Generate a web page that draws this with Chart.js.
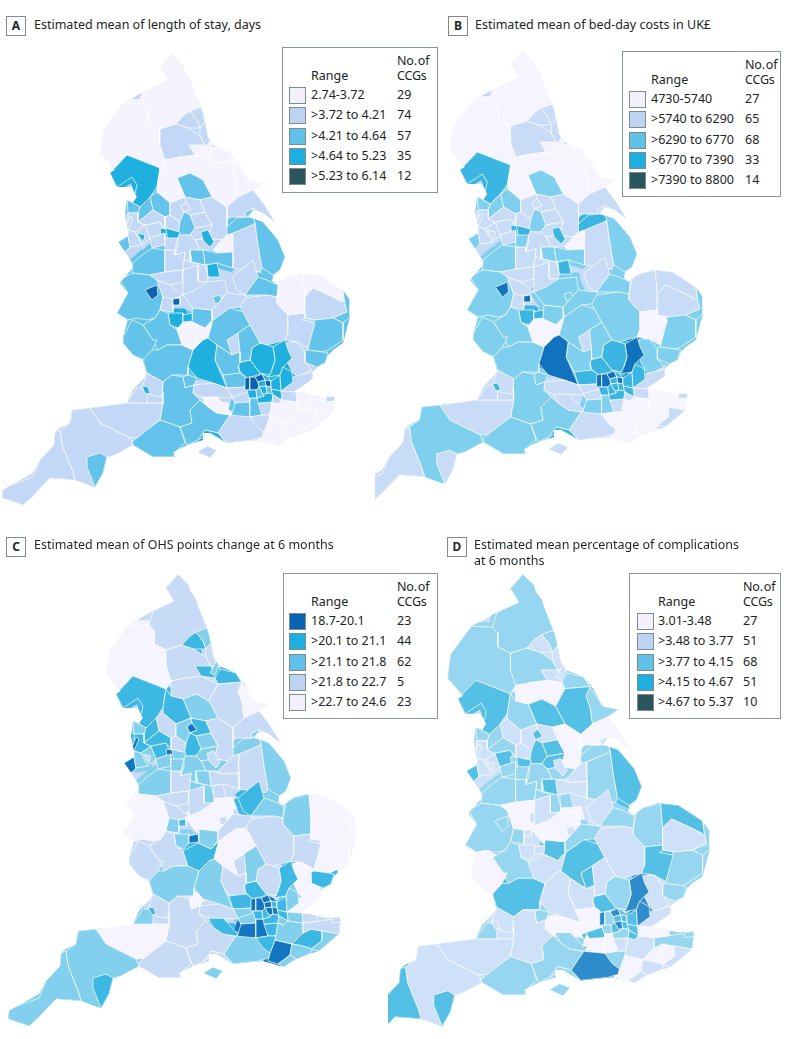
<!DOCTYPE html>
<html>
<head>
<meta charset="utf-8">
<title>Estimated means by CCG</title>
<script src="https://cdn.jsdelivr.net/npm/chart.js@4"></script>
<style>
html, body { margin: 0; padding: 0; background: #fff; }
body { position: relative; width: 787px; height: 1039px; overflow: hidden; font-family: "Noto Sans", sans-serif; color: #1c2526; font-size: 12.5px; }
canvas { position: absolute; }
.tag { position: absolute; width: 18px; height: 18px; border: 1px solid #7f8c8d; text-align: center; line-height: 18px; font-weight: 700; font-size: 12px; box-sizing: content-box; }
.title { position: absolute; line-height: 15.5px; white-space: nowrap; }
.box { position: absolute; border: 1.5px solid #8a9697; background: #fff; height: 144px; box-sizing: content-box; }
.box div { position: absolute; white-space: nowrap; line-height: 15px; }
.box .sw { width: 15px; height: 15px; border: 1px solid #7f8c8d; }
.box .head { word-spacing: -2px; letter-spacing: -0.2px; }
</style>
</head>
<body>
<script>
const regionNames = [
  'northumberland', 'northCumbria', 'morecambeBay', 'durham', 'newcastle', 'northTyneside', 'sunderland', 'hartlepool', 'southTees', 'stockton',
  'hambleton', 'scarborough', 'valeOfYork', 'harrogate', 'eastRiding', 'hull', 'airedale', 'eastLancs', 'fylde', 'preston',
  'westLancs', 'southport', 'bradfordDistricts', 'bradfordCity', 'leeds', 'wakefield', 'calderdale', 'kirklees', 'barnsley', 'doncaster',
  'rotherham', 'northDerbyshire', 'bassetlaw', 'northNotts', 'westLincs', 'eastLincs', 'northLincs', 'midNotts', 'nottingham', 'hardwick',
  'southDerbyshire', 'westCheshire', 'eastCheshire', 'wirral', 'liverpool', 'stHelens', 'wigan', 'bolton', 'bury', 'oldham',
  'tameside', 'manchester', 'stockport', 'shropshire', 'telford', 'stoke', 'stafford', 'eastStaffs', 'wolverhampton', 'walsall',
  'birmingham', 'solihull', 'worcestershire', 'herefordshire', 'gloucestershire', 'coventry', 'southWarwickshire', 'westLeicestershire', 'leicesterCity', 'eastLeicestershire',
  'southWestLincs', 'southLincs', 'cambridgeshire', 'westNorfolk', 'northNorfolk', 'norwich', 'yarmouth', 'ipswich', 'westSuffolk', 'northEastEssex',
  'midEssex', 'westEssex', 'southEssex', 'bedfordshire', 'hertsValleys', 'miltonKeynes', 'nene', 'eastBeds', 'oxfordshire', 'buckinghamshire',
  'chiltern', 'swindon', 'wiltshire', 'somerset', 'northSomerset', 'bath', 'southGlos', 'bristol', 'dorset', 'devon',
  'southDevon', 'cornwall', 'hampshire', 'northHampshire', 'portsmouth', 'isleOfWight', 'westBerks', 'eastBerks', 'northWestSurrey', 'guildford',
  'surreyDowns', 'eastSurrey', 'coastalSussex', 'horsham', 'crawley', 'westKent', 'ashford', 'hastings', 'brighton', 'canterbury',
  'southKent', 'thanet', 'medway', 'dartford', 'hillingdon', 'ealing', 'barnet', 'enfield', 'haringey', 'waltham',
  'barking', 'havering', 'hounslow', 'richmond', 'wandsworth', 'southwark', 'greenwich', 'croydon', 'bromley'
];

// map outlines as x,y pairs, same order as regionNames
const regionOutlines = [
  [172,53,182,63,190,78,197,97,201,107,190,111,183,116,176,124,160,129,148,123,148,110,143,104,147,90,168,80,160,67],
  [143,104,148,110,148,123,160,129,160,145,163,150,165,160,160,168,127,155,115,170,100,153,103,130,123,103],
  [110,173,127,155,160,168,157,187,150,197,140,207,133,203,137,185,132,177,117,187],
  [160,129,176,124,188,128,200,136,205,145,200,155,180,157,165,160,160,145],
  [176,124,183,116,190,111,197,120,200,128,188,128],
  [190,111,201,107,203,113,205,122,200,128,197,120],
  [205,122,208,137,213,145,205,145,200,136,200,128],
  [189,145,205,145,209,157,195,155],
  [214,148,230,152,236,161,212,163,209,157],
  [204,152,212,137,214,142,209,154],
  [165,160,180,157,195,155,212,163,203,180,190,173,177,178,165,175],
  [236,161,230,152,248,180,263,183,253,190,238,197,236,182,232,170],
  [212,163,236,161,232,170,236,182,238,197,227,207,212,197,203,180],
  [177,178,190,173,203,180,212,197,200,200,185,197],
  [238,197,253,190,263,203,275,222,253,208,247,217,227,217,227,207],
  [245,213,252,209,257,216,247,217],
  [160,168,165,175,177,178,185,197,170,203,157,192,157,187],
  [150,197,157,192,170,203,170,215,165,217,153,210],
  [127,200,133,203,140,207,138,213,128,213],
  [140,207,150,197,153,210,138,222,138,213],
  [128,213,138,213,138,222,145,225,135,232,128,230],
  [125,229,130,216,133,218,128,230],
  [170,203,185,197,186,202,181,206,184,212,180,222,170,215],
  [181,206,186,202,191,209,184,212],
  [185,197,200,200,205,212,190,215,184,212,191,209,186,202],
  [190,215,205,212,212,225,195,228],
  [165,217,170,215,180,222,180,232,165,228],
  [180,222,184,212,190,215,195,228,190,235,178,235],
  [195,228,212,225,208,238,195,240,190,235],
  [212,225,205,212,200,200,212,197,227,207,227,217,227,227,232,235,222,240,208,238],
  [195,240,208,238,222,240,213,250,200,250],
  [178,235,190,235,195,240,200,250,190,250,190,262,175,255,178,245],
  [201,232,208,230,214,242,210,247,203,240],
  [213,250,222,240,227,235,233,233,233,252,217,253],
  [233,233,252,225,255,223,258,245,262,268,260,272,233,268],
  [255,223,253,217,263,222,278,240,285,257,280,270,273,275,262,268,258,245],
  [227,227,237,218,247,217,253,217,255,223,252,225,233,233,227,235],
  [203,250,217,253,233,252,233,268,217,263,205,265],
  [207,265,217,263,220,277,208,277],
  [190,250,203,250,205,265,192,262],
  [175,255,190,262,205,265,208,277,207,282,198,282,183,270,185,252],
  [133,263,142,255,152,248,165,250,165,272,150,275,132,273],
  [165,250,175,250,175,255,185,252,183,270,165,272],
  [118,242,128,236,130,247,125,252],
  [128,230,135,232,142,245,130,247,128,236],
  [135,232,145,225,150,238,142,245],
  [137,233,145,235,143,242],
  [145,225,160,222,165,233,150,238],
  [153,210,165,217,165,228,160,222,145,225,138,222],
  [165,228,180,232,178,238,168,243],
  [160,228,166,229,168,243,162,243],
  [150,238,165,233,165,245,152,248],
  [165,238,178,238,175,250,165,250],
  [120,280,132,273,150,275,157,280,163,297,160,310,155,318,147,320,137,318,128,320,117,313,128,293],
  [145,290,157,285,158,295,152,300],
  [165,272,183,270,183,282,170,285,157,280,150,275],
  [157,280,170,285,183,295,170,300,163,297],
  [183,270,198,265,198,282,207,282,195,300,183,295,183,282],
  [163,297,173,299,173,312,160,310],
  [173,299,180,298,180,305,173,305],
  [168,313,183,313,183,322,178,328,170,325],
  [183,315,192,313,193,321,183,322],
  [155,318,160,310,168,313,170,325,177,330,190,343,182,345,167,345,158,350,153,340,143,325],
  [123,337,132,320,143,325,153,340,157,340,152,350,145,360,133,355,123,343],
  [143,360,152,350,158,350,167,345,182,345,193,350,188,367,188,375,172,375,163,382,147,373],
  [193,308,212,310,212,320,205,328,192,322],
  [177,330,192,322,205,328,213,320,208,338,203,340,193,350,182,345],
  [195,290,207,282,225,280,227,293,212,310,193,308,183,295],
  [213,297,220,295,222,302,215,304],
  [212,310,227,293,245,295,247,297,240,307,230,308,213,320],
  [232,277,253,260,258,277,245,295,237,290],
  [245,295,258,277,267,280,278,285,277,297,267,295],
  [245,298,267,295,277,297,277,303,288,315,288,332,285,340,267,345,260,343,250,325,247,320,240,307],
  [277,297,280,282,287,277,303,273,305,297,305,313,288,315,277,303],
  [303,273,320,275,343,290,345,303,333,297,313,288,305,297],
  [305,297,313,288,333,297,345,305,347,312,333,318,317,320,305,318,305,313],
  [343,290,350,300,350,317,343,323,333,318,347,312,345,303],
  [315,320,333,318,343,323,343,340,328,350,323,352,308,350,313,323],
  [288,315,305,313,305,318,302,320,315,323,308,348,297,342,285,340,288,332],
  [303,352,308,350,323,352,328,353,325,363,317,367,305,362],
  [287,342,297,342,305,352,305,362,312,370,297,377,293,373,285,358],
  [273,347,285,340,288,350,292,358,283,367,280,375,268,377,272,370,275,360],
  [280,388,293,377,312,372,313,380,293,392,282,392],
  [252,348,260,343,267,345,273,347,275,360,270,375,260,373,250,360],
  [238,363,250,360,260,373,258,375,247,378,240,372],
  [227,340,238,333,240,352,232,355],
  [208,338,213,320,230,308,243,312,247,320,250,325,238,333,227,340,232,355,217,345],
  [238,333,250,325,260,343,252,348,250,360,240,362,240,352],
  [203,340,208,338,217,345,215,360,227,388,213,383,197,378,188,367,193,350],
  [217,345,232,355,240,352,240,362,238,367,240,373,230,375,223,375,215,360],
  [223,375,240,373,247,378,245,387,227,388],
  [183,377,188,375,197,378,194,385,185,388],
  [163,382,172,375,183,377,185,388,194,385,193,393,200,400,190,410,192,423,180,427,160,420,163,403,162,397],
  [90,408,127,403,148,403,163,403,160,420,147,430,143,437,130,438,100,423],
  [127,403,137,388,142,388,148,393,147,403],
  [147,393,163,392,163,403,147,403],
  [147,373,163,382,162,397,150,395,142,388],
  [142,386,148,387,150,394,145,393],
  [132,442,147,430,160,420,180,427,185,443,177,450,173,457,153,457,133,445],
  [60,430,70,423,72,410,90,408,100,423,130,438,133,445,115,455,107,457,103,473,93,487,75,480,72,470,62,445],
  [87,457,100,453,107,457,103,473,95,487,87,467],
  [2,498,3,488,33,477,40,460,54,445,55,432,60,430,62,445,72,470,75,480,50,478,32,497,23,505],
  [192,423,190,410,200,400,208,407,217,413,230,415,222,427,218,433,205,430,198,440,187,445,180,427],
  [202,397,217,397,232,413,230,415,217,413,208,407],
  [198,440,205,430,218,433,227,443,210,433],
  [197,452,207,446,217,450,210,458],
  [194,385,213,383,227,388,232,397,230,398,217,397,202,397,193,393],
  [227,388,245,387,247,392,235,403,232,397],
  [232,397,247,392,250,398,250,402,235,403],
  [232,413,235,403,250,402,250,417,230,420],
  [250,398,257,398,262,405,262,415,250,417],
  [258,403,272,402,270,415,262,415],
  [222,427,230,415,250,417,262,425,264,432,263,437,253,440,227,443,218,433],
  [264,432,269,419,286,423,284,434,272,443,262,440],
  [250,417,262,415,270,415,269,419,264,432,257,427],
  [272,402,278,404,282,400,297,402,297,412,286,423,269,419],
  [297,412,305,408,316,410,316,420,305,428,297,425,286,423],
  [286,423,297,425,307,428,300,437,290,438,284,434],
  [272,443,284,434,290,438,278,446],
  [297,402,312,400,335,397,333,413,316,410,305,408,297,412],
  [316,410,333,413,313,430,305,428,316,420],
  [326,397,335,396,335,401,326,402],
  [296,392,310,393,312,400,297,402],
  [281,391,296,392,297,402,282,400],
  [245,378,250,377,250,390,245,390],
  [250,377,255,377,258,382,259,387,256,390,250,390],
  [255,377,262,374,265,380,258,382],
  [262,374,268,377,271,381,265,380],
  [258,382,265,380,266,386,259,387],
  [265,380,271,381,271,387,266,386],
  [271,381,280,375,281,391,271,389],
  [280,375,283,367,292,372,293,382,281,391],
  [247,390,256,390,257,398,249,398],
  [256,390,259,387,263,394,264,396,257,398],
  [259,387,266,386,267,393,263,394],
  [266,386,271,387,273,394,267,393],
  [271,389,281,391,282,400,273,395],
  [257,398,264,396,267,393,273,394,272,402,258,403],
  [273,395,282,400,278,404,272,402]
];

// coast and Welsh border, the land shape every region gets cut to
const englandOutline = [
  172,53,176,58,182,63,184,70,190,78,193,88,197,97,203,113,205,122,208,137,213,145,230,152,240,165,248,180,263,183,253,190,263,203,275,222,
  262,212,253,210,247,217,263,222,278,240,285,257,280,270,273,275,272,281,278,285,280,282,287,277,300,273,320,275,343,290,350,300,350,317,
  343,343,333,350,328,355,325,363,317,367,312,372,313,378,300,388,293,392,303,393,320,397,335,396,335,400,333,413,313,430,302,433,290,438,
  278,446,257,440,227,443,210,433,202,433,203,440,187,445,173,452,175,457,153,457,133,445,115,455,107,457,103,473,95,487,75,480,50,478,
  32,497,23,505,2,498,3,490,33,473,40,460,54,445,55,432,60,428,70,423,72,410,90,408,127,403,133,390,147,375,143,360,133,355,123,343,
  123,337,128,320,117,313,128,293,120,283,133,268,132,263,125,252,118,242,128,236,128,230,125,215,127,200,133,203,137,197,132,187,
  117,187,110,173,115,170,100,153,103,130,123,103,147,90,168,80,160,67
];
const wightOutline = [197,452,207,446,217,450,210,458];

// colour class of each region per panel, 0 = lightest, same order as regionNames
const classesA = [
  0,0,3,1,1,1,1,0,0,0, 0,0,0,2,1,2,0,2,2,2, 1,1,1,1,1,1,1,2,1,1, 1,1,3,0,1,2,2,2,3,2,
  1,2,1,2,1,1,3,1,1,3, 3,1,1,2,4,1,1,1,1,4, 3,3,2,2,2,2,0,1,2,1, 1,2,1,0,0,1,2,2,1,2,
  1,3,1,3,3,1,2,2,3,2, 2,2,2,1,1,1,1,3,2,1, 2,1,2,0,3,1,1,1,1,2, 2,1,1,0,1,0,0,0,0,0,
  0,1,0,1,4,4,4,3,3,4, 3,3,3,2,3,2,3,3,1
];
const classesB = [
  0,0,3,1,1,1,1,0,0,0, 0,0,0,2,1,1,0,2,2,2, 1,1,1,1,1,1,1,2,1,1, 1,1,3,0,1,2,3,2,3,2,
  1,2,1,2,1,1,1,1,1,3, 3,1,2,2,4,1,1,1,1,4, 3,3,2,2,2,2,0,2,2,2, 1,2,2,1,1,1,2,2,0,2,
  2,4,1,3,3,1,2,2,4,2, 3,2,2,1,1,1,1,3,2,2, 1,1,2,1,3,1,1,1,1,2, 2,1,1,0,0,0,0,0,0,0,
  1,1,0,1,4,4,4,3,3,4, 3,3,3,3,3,3,3,3,1
];
const classesC = [
  1,0,3,1,3,2,1,3,3,2, 1,0,1,2,1,2,3,1,2,3, 3,4,2,4,3,2,1,3,2,1, 2,2,1,1,1,2,2,1,1,2,
  2,2,1,4,2,2,1,3,3,2, 4,2,2,0,0,1,1,1,2,3, 2,4,1,1,2,2,3,0,1,1, 3,2,1,2,0,0,0,0,1,3,
  0,3,0,1,3,1,0,2,2,1, 3,0,1,0,2,1,1,3,1,2, 3,2,1,3,1,2,1,2,2,4, 4,3,2,4,3,2,3,2,2,1,
  2,1,1,2,4,4,4,4,4,3, 3,2,3,3,4,4,3,3,2
];
const classesD = [
  2,2,3,2,1,2,1,1,2,1, 0,2,3,3,0,1,2,1,2,2, 1,1,1,3,1,3,1,3,3,0, 2,2,1,1,2,3,2,1,2,3,
  2,2,2,3,1,1,1,3,2,3, 2,2,2,2,2,0,0,1,2,1, 1,1,2,0,3,3,1,0,1,2, 1,2,1,2,3,1,2,2,3,2,
  1,4,1,2,3,3,3,1,1,1, 0,2,1,1,2,1,1,1,2,1, 3,3,2,2,2,2,0,0,3,0, 0,1,4,0,2,1,0,1,1,2,
  1,2,0,0,4,2,4,3,3,3, 3,4,2,3,4,3,3,2,3
];

const fillsA = ['#f5f3fe', '#c2d8f6', '#63c3ea', '#1fb0e0', '#0a62b0'];
const fillsB = ['#f6f4fe', '#c9dcf7', '#7fd0ef', '#3bb6e3', '#1173be'];
const fillsC = ['#f6f4fe', '#c8dbf6', '#82d0ee', '#3db8e5', '#1277c0'];
const fillsD = ['#f6f4fe', '#cfe1f9', '#96d6f1', '#55c0e6', '#2e8ccd'];

const rangesA = ['2.74-3.72', '>3.72 to 4.21', '>4.21 to 4.64', '>4.64 to 5.23', '>5.23 to 6.14'];
const countsA = [29, 74, 57, 35, 12];
const rangesB = ['4730-5740', '>5740 to 6290', '>6290 to 6770', '>6770 to 7390', '>7390 to 8800'];
const countsB = [27, 65, 68, 33, 14];
const rangesC = ['18.7-20.1', '>20.1 to 21.1', '>21.1 to 21.8', '>21.8 to 22.7', '>22.7 to 24.6'];
const countsC = [23, 44, 62, 5, 23];
const rangesD = ['3.01-3.48', '>3.48 to 3.77', '>3.77 to 4.15', '>4.15 to 4.67', '>4.67 to 5.37'];
const countsD = [27, 51, 68, 51, 10];

const swatches = ['#f3f0fc', '#bcd4f2', '#62c1e8', '#1eaedf', '#2b555d'];
const swatchesC = ['#0c62b2', '#1eaedf', '#62c1e8', '#bcd4f2', '#f3f0fc'];

function addEl(parent, cls, text, css) {
    const el = document.createElement('div');
    el.className = cls;
    if (text !== null) el.textContent = text;
    Object.assign(el.style, css);
    parent.appendChild(el);
    return el;
}

function toPoints(flat) {
    const points = [];
    for (let k = 0; k < flat.length; k += 2) points.push({ x: flat[k], y: flat[k + 1] });
    points.push(points[0]);
    return points;
}

// cuts everything drawn to the land shape, using the chart's own scales
const coastClip = {
    id: 'coastClip',
    beforeDatasetsDraw(chart) {
        const { ctx, scales } = chart;
        ctx.save();
        ctx.beginPath();
        [englandOutline, wightOutline].forEach(flat => {
            toPoints(flat).forEach((pt, k) => {
                const px = scales.x.getPixelForValue(pt.x);
                const py = scales.y.getPixelForValue(pt.y);
                if (k === 0) ctx.moveTo(px, py);
                else ctx.lineTo(px, py);
            });
            ctx.closePath();
        });
        ctx.clip();
    },
    afterDatasetsDraw(chart) {
        chart.ctx.restore();
    }
};

function drawMap(p) {
    const canvas = document.createElement('canvas');
    canvas.style.left = p.left + 'px';
    canvas.style.top = p.top + 'px';
    canvas.style.width = p.width + 'px';
    canvas.style.height = p.height + 'px';
    canvas.width = p.width;
    canvas.height = p.height;
    document.body.appendChild(canvas);

    const line = { showLine: true, tension: 0, pointRadius: 0 };
    const datasets = [];

    // land underneath, so nothing between the regions is left white
    datasets.push({ ...line, label: 'land', data: toPoints(englandOutline), fill: 'shape', borderWidth: 0, backgroundColor: p.fills[1], order: 100000 });

    regionOutlines.forEach((flat, i) => {
        const color = p.fills[p.classes[i]];
        // wide stroke in the region's colour closes the slivers next to it
        if (flat.length > 8) {
            datasets.push({ ...line, label: regionNames[i] + ' bleed', data: toPoints(flat), fill: false, borderWidth: 9, borderColor: color, borderJoinStyle: 'round', order: 5000 - i });
        }
        datasets.push({ ...line, label: regionNames[i], data: toPoints(flat), fill: 'shape', borderWidth: 0.7, borderColor: '#fff', backgroundColor: color, order: -i });
    });

    new Chart(canvas, {
        type: 'scatter',
        data: { datasets },
        plugins: [coastClip],
        options: {
            responsive: false,
            animation: false,
            events: [],
            layout: { padding: 0 },
            plugins: { legend: { display: false }, tooltip: { enabled: false } },
            scales: {
                x: { type: 'linear', display: false, min: p.xMin, max: p.xMin + p.width / p.sx },
                y: { type: 'linear', display: false, reverse: true, min: p.yMin, max: p.yMin + p.height / p.sy }
            }
        }
    });
}

function drawLegend(p) {
    const box = addEl(document.body, 'box', null, { left: p.box[0] + 'px', top: p.box[1] + 'px', width: p.box[2] + 'px' });
    addEl(box, '', 'Range', { left: p.textX + 'px', top: '20px' });
    addEl(box, 'head', 'No. of', { left: p.countX + 'px', top: '5px' });
    addEl(box, 'head', 'CCGs', { left: p.countX + 'px', top: '20px' });
    p.ranges.forEach((r, i) => {
        const y = 39 + i * 20.25;
        addEl(box, 'sw', null, { left: p.swatchX + 'px', top: y + 'px', background: p.swatches[i] });
        addEl(box, '', r, { left: p.textX + 'px', top: y + 'px' });
        addEl(box, '', String(p.counts[i]), { left: p.countX + 'px', top: y + 'px' });
    });
}

function drawHeading(p) {
    addEl(document.body, 'tag', p.tag, { left: p.tagAt[0] + 'px', top: p.tagAt[1] + 'px' });
    p.title.forEach((line, i) => {
        addEl(document.body, 'title', line, { left: p.titleAt[0] + 'px', top: p.titleAt[1] + i * 15.5 + 'px' });
    });
}

const mapA = { left: 0, top: 40, width: 360, height: 475, xMin: 0, yMin: 40, sx: 1, sy: 1, fills: fillsA, classes: classesA };
const mapB = { left: 375, top: 40, width: 370, height: 475, xMin: 26, yMin: 43, sx: 1.012, sy: 1, fills: fillsB, classes: classesB };
const mapC = { left: 0, top: 561, width: 370, height: 478, xMin: -6, yMin: 40, sx: 1, sy: 1, fills: fillsC, classes: classesC };
const mapD = { left: 388, top: 561, width: 340, height: 478, xMin: 43.4, yMin: 40.5, sx: 1.05, sy: 1.042, fills: fillsD, classes: classesD };

[mapA, mapB, mapC, mapD].forEach(drawMap);

drawLegend({ box: [282, 47, 154], swatchX: 6, textX: 28, countX: 114, ranges: rangesA, counts: countsA, swatches });
drawLegend({ box: [622, 51, 157], swatchX: 6, textX: 28, countX: 122, ranges: rangesB, counts: countsB, swatches });
drawLegend({ box: [283, 573, 153], swatchX: 5, textX: 27, countX: 113, ranges: rangesC, counts: countsC, swatches: swatchesC });
drawLegend({ box: [629, 573, 150], swatchX: 7, textX: 28, countX: 113, ranges: rangesD, counts: countsD, swatches });

drawHeading({ tag: 'A', tagAt: [6, 16], titleAt: [34, 17], title: ['Estimated mean of length of stay, days'] });
drawHeading({ tag: 'B', tagAt: [448, 16], titleAt: [475, 17], title: ['Estimated mean of bed-day costs in UK£'] });
drawHeading({ tag: 'C', tagAt: [6, 537], titleAt: [34, 537], title: ['Estimated mean of OHS points change at 6 months'] });
drawHeading({ tag: 'D', tagAt: [447, 537], titleAt: [474, 537], title: ['Estimated mean percentage of complications', 'at 6 months'] });
</script>
</body>
</html>
